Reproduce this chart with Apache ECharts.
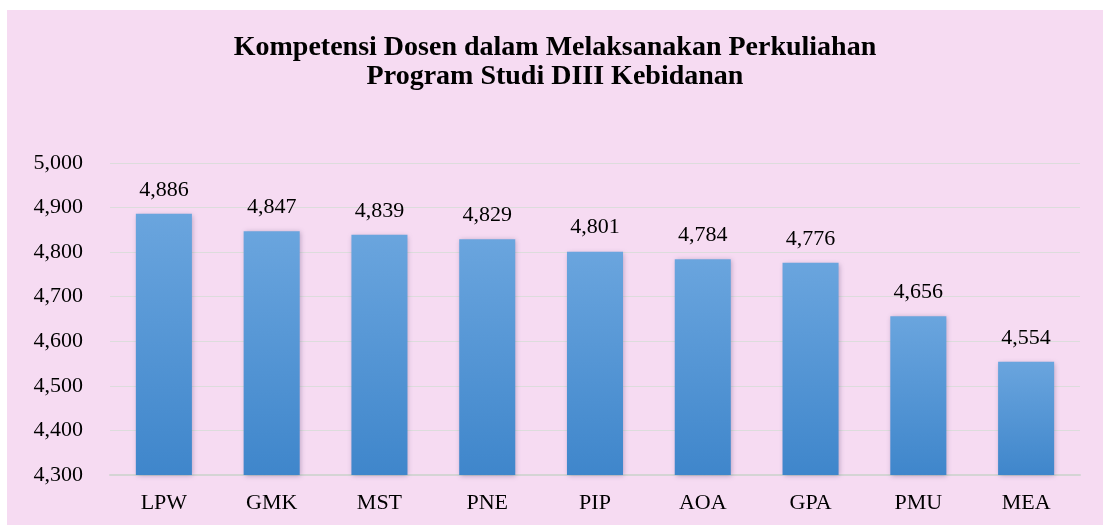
<!DOCTYPE html>
<html>
<head>
<meta charset="utf-8">
<script src="https://cdn.jsdelivr.net/npm/echarts@6/dist/echarts.min.js"></script>
<style>
html,body{margin:0;padding:0;background:#fff;width:1103px;height:525px;overflow:hidden;}
#c{position:absolute;left:7px;top:10px;width:1096px;height:515px;background:#F6DBF2;}
</style>
</head>
<body>
<div id="c"></div>
<script>
const titleLines = ['Kompetensi Dosen dalam Melaksanakan Perkuliahan', 'Program Studi DIII Kebidanan'];
const categories = ['LPW', 'GMK', 'MST', 'PNE', 'PIP', 'AOA', 'GPA', 'PMU', 'MEA'];
const values = [4886, 4847, 4839, 4829, 4801, 4784, 4776, 4656, 4554];
const yMin = 4300, yMax = 5000, yStep = 100;

const fmt = v => {
  const s = String(v);
  return s.length > 3 ? s.slice(0, s.length - 3) + ',' + s.slice(-3) : s;
};
const chart = echarts.init(document.getElementById('c'));
chart.setOption({
  backgroundColor: 'transparent',
  title: {
    text: titleLines.join('\n'),
    left: 'center',
    top: 18,
    textStyle: {fontFamily: 'Liberation Serif', fontWeight: 'bold', fontSize: 28, color: '#000', lineHeight: 29}
  },
  grid: {left: 103, right: 23, top: 153, bottom: 50},
  xAxis: {
    type: 'category',
    data: categories,
    axisLine: {show: true, lineStyle: {color: '#d4d4d4', width: 2}},
    axisTick: {show: false},
    axisLabel: {fontFamily: 'Liberation Serif', fontSize: 22, color: '#000', margin: 17}
  },
  yAxis: {
    type: 'value',
    min: yMin, max: yMax, interval: yStep,
    axisLine: {show: false},
    axisTick: {show: false},
    splitLine: {lineStyle: {color: '#dcdcdc', width: 1}},
    axisLabel: {fontFamily: 'Liberation Serif', fontSize: 22, color: '#000', margin: 27, formatter: fmt}
  },
  series: [{
    type: 'bar',
    data: values,
    barWidth: '52%',
    itemStyle: {
      color: new echarts.graphic.LinearGradient(0, 0, 0, 1, [
        {offset: 0, color: '#6aa5de'},
        {offset: 1, color: '#3f86cb'}
      ]),
      shadowColor: 'rgba(70,50,100,0.35)',
      shadowBlur: 5,
      shadowOffsetX: 1,
      shadowOffsetY: 1
    },
    label: {
      show: true, position: 'top', distance: 13,
      fontFamily: 'Liberation Serif', fontSize: 22, color: '#000',
      formatter: p => fmt(p.value)
    }
  }]
});
</script>
</body>
</html>
